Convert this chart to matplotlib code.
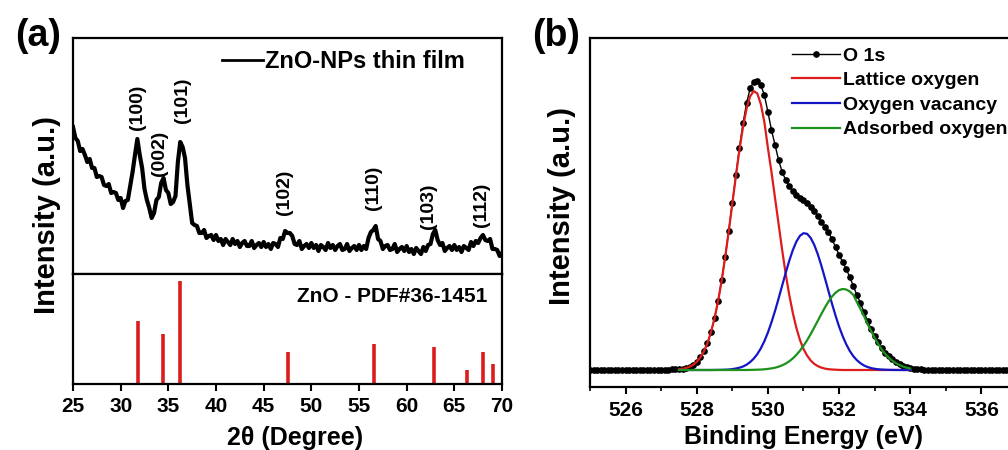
import numpy as np
import matplotlib
matplotlib.use('Agg')
import matplotlib.pyplot as plt
from matplotlib.ticker import MultipleLocator

plt.rcParams['font.family'] = ['Liberation Sans', 'DejaVu Sans']
plt.rcParams['font.weight'] = 'bold'
plt.rcParams['axes.labelweight'] = 'bold'

# ---------------- (a) XRD ----------------
xrd_2theta = np.linspace(25, 70, 181)   # 0.25 deg step
xrd_counts = [
    147, 136, 133, 123, 125, 119, 112, 115, 106, 106, 97, 98, 97, 89, 88, 90, 81, 82, 81, 74,
    76, 66, 73, 74, 88, 102, 119, 135, 119, 106, 85, 74, 66, 56, 61, 74, 77, 91, 96, 84,
    81, 70, 72, 78, 112, 132, 127, 116, 89, 70, 51, 49, 48, 41, 41, 44, 36, 38, 39, 34,
    39, 33, 35, 29, 35, 32, 29, 35, 30, 33, 27, 31, 33, 28, 28, 33, 26, 29, 31, 27,
    32, 27, 30, 25, 31, 30, 27, 36, 35, 43, 41, 41, 38, 30, 29, 33, 25, 28, 30, 26,
    31, 26, 29, 23, 29, 27, 24, 31, 26, 29, 24, 28, 30, 24, 25, 30, 23, 26, 28, 24,
    29, 24, 28, 25, 36, 42, 44, 48, 35, 33, 25, 28, 29, 24, 25, 30, 22, 25, 27, 23,
    28, 22, 25, 20, 26, 23, 20, 27, 23, 29, 30, 40, 44, 34, 29, 31, 23, 26, 28, 24,
    29, 24, 27, 22, 28, 26, 24, 32, 28, 33, 31, 36, 39, 34, 33, 35, 25, 25, 24, 18,
    21,
]

hkl_labels = ['(100)', '(002)', '(101)', '(102)', '(110)', '(103)', '(112)']
hkl_x = [31.8, 34.1, 36.5, 47.2, 56.5, 62.3, 67.9]
hkl_y = [167, 121, 174, 82, 86, 68, 69]

pdf_2theta = [31.77, 34.42, 36.25, 47.54, 56.60, 62.86, 66.38, 67.96, 69.10]
pdf_int = [61, 49, 100, 31, 39, 36, 14, 31, 19]

# ---------------- (b) XPS O 1s ----------------
be = np.round(np.arange(525.0, 538.01, 0.1), 1)
o1s = [0.5, 0, 0.5, 0, 0, 0.5, 0, 0.5, 0, 0, 0.5, 0, 0.5, 0, 0, 0.5, 0, 0.5, 0, 0.2,
       0.3, 0.4, 0.5, 0.6, 0.8, 1.0, 1.5, 2.3, 3.5, 5.4,
       8.3, 12.6, 18.7, 26.9, 37.9, 51.8, 69.0, 89.6, 113.3, 139.5,
       167.3, 195.5, 222.4, 246.6, 266.7, 281.6, 288.5, 289.5, 285, 275,
       258, 240, 225, 210, 198, 190, 184, 179, 175, 172,
       170, 167, 163, 159, 154, 148, 143, 138, 131, 123,
       115, 108, 101, 93, 84, 75, 67, 58, 49, 41,
       34, 28, 22, 17, 14, 11, 8, 6, 4, 3,
       2, 1.5, 1, 0.6, 0.3,
       0, 0.5, 0, 0.5, 0, 0, 0.5, 0, 0.5, 0, 0, 0.5, 0, 0.5, 0, 0, 0.5, 0,
       0.5, 0, 0, 0.5, 0, 0.5, 0, 0, 0.5, 0, 0.5, 0, 0, 0.5, 0, 0.5, 0, 0]

fit_be = np.round(np.arange(527.5, 534.01, 0.1), 1)
lattice = [0.7, 1.2, 2.0, 3.3, 5.2, 8.2, 12.5, 18.6, 26.8, 37.8,
           51.7, 68.9, 89.4, 113.0, 139.0, 166.4, 194.0, 220.1, 243.1, 261.4,
           273.6, 278.9, 276.6, 266, 248, 222, 198, 172, 146, 120,
           96, 75, 57, 42, 30, 21, 14.5, 9.6, 6.2, 3.9,
           2.4, 1.4, 0.8, 0.5, 0.3, 0.1,
           0, 0, 0, 0, 0, 0, 0, 0, 0, 0, 0, 0, 0, 0, 0, 0, 0, 0, 0, 0]
vacancy = [0, 0, 0, 0, 0, 0, 0, 0, 0, 0,
           0.05, 0.1, 0.2, 0.3, 0.5, 0.9, 1.5, 2.3, 3.5, 5.3,
           7.9, 11.3, 15.8, 21.6, 28.8, 37.5, 47.7, 59.1, 71.5, 84.4,
           97.2, 109.3, 119.9, 128.4, 134.2, 136.8, 136.2, 132.2, 125.3, 115.9,
           104.6, 92.1, 79.2, 66.4, 54.4, 43.4, 33.9, 25.8, 19.1, 13.8,
           9.8, 6.8, 4.5, 3.0, 1.9, 1.2, 0.7, 0.45, 0.27, 0.15,
           0.08, 0.04, 0.02, 0, 0, 0]
adsorbed = [0, 0, 0, 0, 0, 0, 0, 0, 0, 0, 0, 0, 0, 0, 0, 0, 0, 0, 0, 0,
            0.1, 0.2, 0.3, 0.45, 0.7, 1.1, 1.6, 2.3, 3.3, 4.7,
            6.4, 8.7, 11.6, 15.1, 19.3, 24.2, 29.7, 35.8, 42.4, 49.1,
            55.9, 62.4, 68.3, 73.4, 77.3, 79.9, 81.0, 80.5, 78.5, 75.1,
            68, 61, 54, 46, 39, 32, 26, 20.5, 16, 12.2,
            9.2, 6.8, 4.9, 3.4, 2.3, 1.5]

W, H = 1008, 450
fig = plt.figure(figsize=(W / 100, H / 100), dpi=100)

def box(l, t, r, b):
    return [l / W, 1 - b / H, (r - l) / W, (b - t) / H]

lw_sp = 1.6
red = '#dd1c1c'

# --- panel a, upper
ax_t = fig.add_axes(box(73, 38, 502, 274))
ax_t.plot(xrd_2theta, xrd_counts, color='black', lw=3.0, label='ZnO-NPs thin film')
ax_t.set_xlim(25, 70)
ax_t.set_ylim(0, 236)
ax_t.tick_params(left=False, bottom=False, labelleft=False, labelbottom=False)
for lab, x, y in zip(hkl_labels, hkl_x, hkl_y):
    ax_t.text(x, y, lab, rotation=90, ha='center', va='center', fontsize=14)
leg = ax_t.legend(loc='upper left', bbox_to_anchor=((222 - 73) / 429, (274 - 50) / 236),
                  frameon=False, fontsize=17, handlelength=1.75, handletextpad=0.08,
                  borderpad=0, borderaxespad=0)
leg.get_lines()[0].set_linewidth(2.0)
ax_t.set_ylabel('Intensity (a.u.)', fontsize=21)
ax_t.yaxis.set_label_coords(-0.028, 0.25)

# --- panel a, lower
ax_b = fig.add_axes(box(73, 274, 502, 384))
ax_b.vlines(pdf_2theta, 0, pdf_int, color=red, lw=2.6)
ax_b.set_xlim(25, 70)
ax_b.set_ylim(0, 107)
ax_b.xaxis.set_major_locator(MultipleLocator(5))
ax_b.tick_params(axis='x', direction='out', length=5, width=1.5, labelsize=15, pad=4)
ax_b.tick_params(axis='y', left=False, labelleft=False)
ax_b.text(0.965, 0.80, 'ZnO - PDF#36-1451', transform=ax_b.transAxes,
          ha='right', va='center', fontsize=15)
ax_b.set_xlabel('2θ (Degree)', fontsize=18)
ax_b.xaxis.set_label_coords(0.517, -0.38)

for a in (ax_t, ax_b):
    for s in a.spines.values():
        s.set_linewidth(lw_sp)

# --- panel b (right edge runs past the figure, as in the original crop)
ax2 = fig.add_axes(box(590, 38, 1017, 387))
ax2.plot(be, o1s, color='black', lw=1.0, marker='o', ms=3.8, label='O 1s')
ax2.plot(fit_be, lattice, color=red, lw=1.6, label='Lattice oxygen')
ax2.plot(fit_be, vacancy, color='#1515c8', lw=1.6, label='Oxygen vacancy')
ax2.plot(fit_be, adsorbed, color='#1c911c', lw=1.6, label='Adsorbed oxygen')
ax2.set_xlim(525, 537)
ax2.set_ylim(-17, 332)
ax2.xaxis.set_major_locator(MultipleLocator(2))
ax2.xaxis.set_minor_locator(MultipleLocator(1))
ax2.tick_params(axis='x', which='major', direction='out', length=5, width=1.5,
                labelsize=15, pad=5)
ax2.tick_params(axis='x', which='minor', direction='out', length=3, width=1.2)
ax2.tick_params(axis='y', left=False, labelleft=False)
for s in ax2.spines.values():
    s.set_linewidth(lw_sp)
ax2.legend(loc='upper left', bbox_to_anchor=((792 - 590) / 427, (387 - 47) / 349),
           frameon=False, fontsize=14, handlelength=2.45, handletextpad=0.15,
           labelspacing=0.36, borderpad=0, borderaxespad=0)
ax2.set_xlabel('Binding Energy (eV)', fontsize=18)
ax2.xaxis.set_label_coords((804 - 590) / 427, -0.11)
ax2.set_ylabel('Intensity (a.u.)', fontsize=21)
ax2.yaxis.set_label_coords(-0.032, 0.519)

fig.text(38 / W, 1 - 36 / H, '(a)', fontsize=27, ha='center', va='center')
fig.text(556 / W, 1 - 36 / H, '(b)', fontsize=27, ha='center', va='center')

plt.savefig('out.png', dpi=100)
